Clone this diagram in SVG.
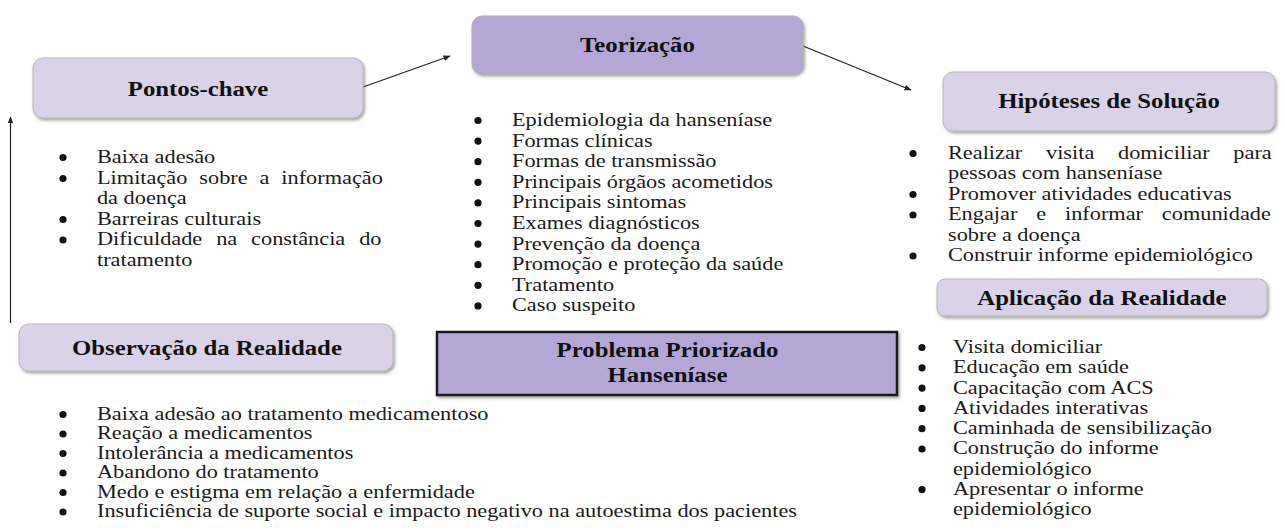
<svg xmlns="http://www.w3.org/2000/svg" width="1285" height="531" viewBox="0 0 1285 531">
<defs>
<style>
.t{font-family:"Liberation Serif","Times New Roman",serif;font-size:18px;fill:#1a1a1a}
.h{font-family:"Liberation Serif","Times New Roman",serif;font-size:20px;font-weight:bold;fill:#111;text-anchor:middle}
.light{fill:#d9d2e9;stroke:#b9b9b9;stroke-width:1}
.dark{fill:#b4a7d6;stroke:#b0b0b0;stroke-width:1}
.prob{fill:#b4a7d6;stroke:#1a1a1a;stroke-width:2.5}
.b{fill:#111}
.c{stroke:#222;stroke-width:1.2;fill:none;marker-end:url(#ah)}
</style>
<filter id="sh" x="-10%" y="-30%" width="120%" height="160%">
<feDropShadow dx="1.5" dy="2" stdDeviation="1.8" flood-color="#555" flood-opacity="0.55"/>
</filter>
<marker id="ah" viewBox="0 0 10 10" refX="9" refY="5" markerWidth="6" markerHeight="6" markerUnits="strokeWidth" orient="auto">
<path d="M0,1 L10,5 L0,9 Z" fill="#222"/>
</marker>
</defs>
<rect width="1285" height="531" fill="#fff"/>

<g id="connectors">
<line class="c" x1="363" y1="87" x2="450" y2="56"/>
<line class="c" x1="803" y1="46" x2="911" y2="90"/>
<line class="c" x1="10.5" y1="323" x2="10.5" y2="117"/>
</g>

<g id="pontos-chave">
<rect class="light" x="33" y="58" width="330" height="60" rx="10" filter="url(#sh)"/>
<g transform="scale(1.24,1)">
<text class="h" x="159.7" y="96">Pontos-chave</text>
<text class="t" x="78.2" y="163">Baixa adesão</text>
<text class="t" x="78.2" y="184" word-spacing="5.1">Limitação sobre a informação</text>
<text class="t" x="78.2" y="204.5">da doença</text>
<text class="t" x="78.2" y="225">Barreiras culturais</text>
<text class="t" x="78.2" y="245.5" word-spacing="6.7">Dificuldade na constância do</text>
<text class="t" x="78.2" y="266">tratamento</text>
</g>
<circle class="b" cx="63" cy="157.5" r="3.6"/>
<circle class="b" cx="63" cy="178.5" r="3.6"/>
<circle class="b" cx="63" cy="219.5" r="3.6"/>
<circle class="b" cx="63" cy="240" r="3.6"/>
</g>

<g id="teorizacao">
<rect class="dark" x="472" y="16" width="331" height="58" rx="10" filter="url(#sh)"/>
<g transform="scale(1.24,1)">
<text class="h" x="514.1" y="52">Teorização</text>
<text class="t" x="412.9" y="126">Epidemiologia da hanseníase</text>
<text class="t" x="412.9" y="146.6">Formas clínicas</text>
<text class="t" x="412.9" y="167.2">Formas de transmissão</text>
<text class="t" x="412.9" y="187.8">Principais órgãos acometidos</text>
<text class="t" x="412.9" y="208.4">Principais sintomas</text>
<text class="t" x="412.9" y="229">Exames diagnósticos</text>
<text class="t" x="412.9" y="249.6">Prevenção da doença</text>
<text class="t" x="412.9" y="270.2">Promoção e proteção da saúde</text>
<text class="t" x="412.9" y="290.8">Tratamento</text>
<text class="t" x="412.9" y="311.4">Caso suspeito</text>
</g>
<circle class="b" cx="478" cy="120.5" r="3.6"/>
<circle class="b" cx="478" cy="141.1" r="3.6"/>
<circle class="b" cx="478" cy="161.7" r="3.6"/>
<circle class="b" cx="478" cy="182.3" r="3.6"/>
<circle class="b" cx="478" cy="202.9" r="3.6"/>
<circle class="b" cx="478" cy="223.5" r="3.6"/>
<circle class="b" cx="478" cy="244.1" r="3.6"/>
<circle class="b" cx="478" cy="264.7" r="3.6"/>
<circle class="b" cx="478" cy="285.3" r="3.6"/>
<circle class="b" cx="478" cy="305.9" r="3.6"/>
</g>

<g id="hipoteses">
<rect class="light" x="943" y="72" width="332" height="59" rx="10" filter="url(#sh)"/>
<g transform="scale(1.24,1)">
<text class="h" x="894.4" y="108">Hipóteses de Solução</text>
<text class="t" x="764.5" y="159" word-spacing="14.6">Realizar visita domiciliar para</text>
<text class="t" x="764.5" y="179.5">pessoas com hanseníase</text>
<text class="t" x="764.5" y="200">Promover atividades educativas</text>
<text class="t" x="764.5" y="220.5" word-spacing="10.7">Engajar e informar comunidade</text>
<text class="t" x="764.5" y="241">sobre a doença</text>
<text class="t" x="764.5" y="261.5">Construir informe epidemiológico</text>
</g>
<circle class="b" cx="913" cy="153.5" r="3.6"/>
<circle class="b" cx="913" cy="194.5" r="3.6"/>
<circle class="b" cx="913" cy="215" r="3.6"/>
<circle class="b" cx="913" cy="256" r="3.6"/>
</g>

<g id="aplicacao">
<rect class="light" x="937" y="279" width="330" height="37" rx="8" filter="url(#sh)"/>
<g transform="scale(1.24,1)">
<text class="h" x="888.7" y="305">Aplicação da Realidade</text>
<text class="t" x="768.5" y="353">Visita domiciliar</text>
<text class="t" x="768.5" y="373.3">Educação em saúde</text>
<text class="t" x="768.5" y="393.6">Capacitação com ACS</text>
<text class="t" x="768.5" y="413.9">Atividades interativas</text>
<text class="t" x="768.5" y="434.2">Caminhada de sensibilização</text>
<text class="t" x="768.5" y="454.5">Construção do informe</text>
<text class="t" x="768.5" y="474.8">epidemiológico</text>
<text class="t" x="768.5" y="495.1">Apresentar o informe</text>
<text class="t" x="768.5" y="515.4">epidemiológico</text>
</g>
<circle class="b" cx="922" cy="347.5" r="3.6"/>
<circle class="b" cx="922" cy="367.8" r="3.6"/>
<circle class="b" cx="922" cy="388.1" r="3.6"/>
<circle class="b" cx="922" cy="408.4" r="3.6"/>
<circle class="b" cx="922" cy="428.7" r="3.6"/>
<circle class="b" cx="922" cy="449" r="3.6"/>
<circle class="b" cx="922" cy="489.6" r="3.6"/>
</g>

<g id="observacao">
<rect class="light" x="19" y="324" width="374" height="47" rx="10" filter="url(#sh)"/>
<g transform="scale(1.24,1)">
<text class="h" x="166.9" y="355">Observação da Realidade</text>
<text class="t" x="78.2" y="420">Baixa adesão ao tratamento medicamentoso</text>
<text class="t" x="78.2" y="439.5">Reação a medicamentos</text>
<text class="t" x="78.2" y="459">Intolerância a medicamentos</text>
<text class="t" x="78.2" y="478.5">Abandono do tratamento</text>
<text class="t" x="78.2" y="498">Medo e estigma em relação a enfermidade</text>
<text class="t" x="78.2" y="517.5">Insuficiência de suporte social e impacto negativo na autoestima dos pacientes</text>
</g>
<circle class="b" cx="63" cy="414.5" r="3.6"/>
<circle class="b" cx="63" cy="434" r="3.6"/>
<circle class="b" cx="63" cy="453.5" r="3.6"/>
<circle class="b" cx="63" cy="473" r="3.6"/>
<circle class="b" cx="63" cy="492.5" r="3.6"/>
<circle class="b" cx="63" cy="512" r="3.6"/>
</g>

<g id="problema">
<rect class="prob" x="437" y="332" width="460" height="63" filter="url(#sh)"/>
<g transform="scale(1.24,1)">
<text class="h" x="538.3" y="357">Problema Priorizado</text>
<text class="h" x="538.3" y="382">Hanseníase</text>
</g>
</g>
</svg>
